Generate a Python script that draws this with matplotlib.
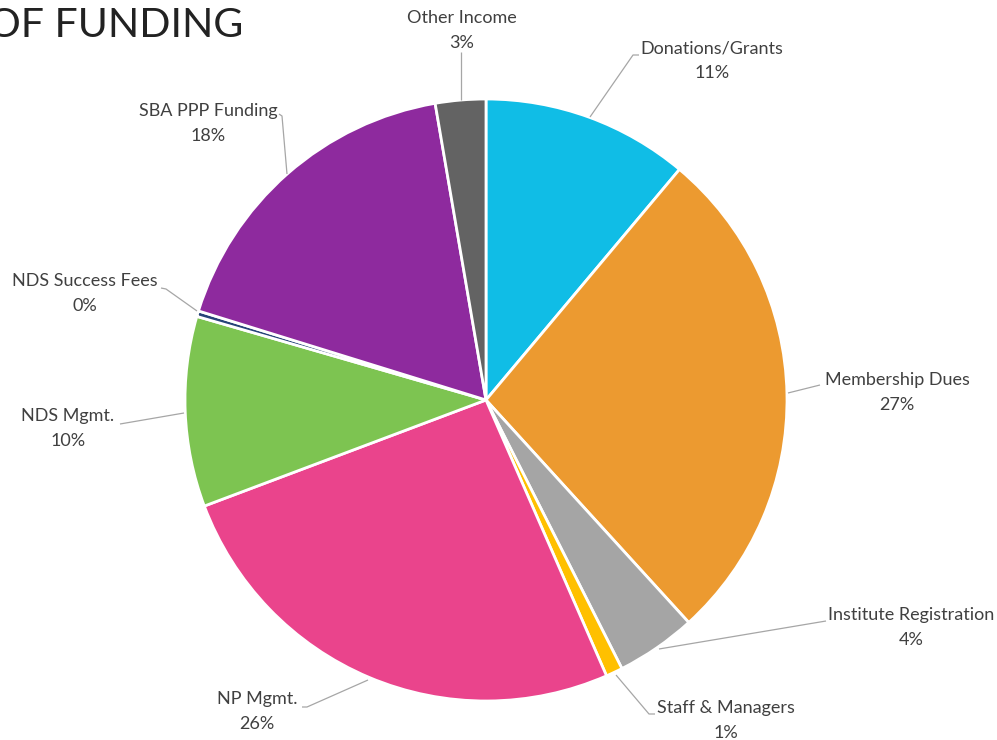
import matplotlib.pyplot as plt

# slice data (clockwise from 12 o'clock)
categories = ['Donations/Grants', 'Membership Dues', 'Institute Registration',
              'Staff & Managers', 'NP Mgmt.', 'NDS Mgmt.', 'NDS Success Fees',
              'SBA PPP Funding', 'Other Income']
shares = [11.1, 27.1, 4.3, 0.9, 25.8, 10.2, 0.3, 17.5, 2.7]
pct_labels = ['11%', '27%', '4%', '1%', '26%', '10%', '0%', '18%', '3%']
colors = ['#10BDE6', '#EC9A30', '#A5A5A5', '#FFC000', '#EA448C',
          '#7DC451', '#264478', '#8E2A9E', '#636363']

W, H = 997, 740
plt.rcParams['font.family'] = ['Lato', 'DejaVu Sans']

fig = plt.figure(figsize=(W / 100, H / 100), dpi=100)
ax = fig.add_axes([0, 0, 1, 1])

cx, cy, r = 486, 400, 301
ax.pie(shares, colors=colors, startangle=90, counterclock=False,
       center=(cx, H - cy), radius=r,
       wedgeprops=dict(edgecolor='white', linewidth=2))
ax.set_xlim(0, W)
ax.set_ylim(0, H)
ax.set_aspect('equal')
ax.axis('off')

# label placement in pixel coords (top-left origin): text centre, leader line points
label_pos = {
    'Donations/Grants': ((712, 48), [(590, 117), (633, 55), (639, 55)]),
    'Membership Dues': ((897, 380), [(788, 393), (820, 385)]),
    'Institute Registration': ((911, 615), [(659, 649), (826, 621)]),
    'Staff & Managers': ((726, 708), [(616, 675), (649, 714), (655, 714)]),
    'NP Mgmt.': ((257, 699), [(368, 680), (307, 707), (302, 707)]),
    'NDS Mgmt.': ((68, 416), [(184, 413), (120, 424)]),
    'NDS Success Fees': ((85, 281), [(197, 311), (166, 289), (161, 288)]),
    'SBA PPP Funding': ((208, 111), [(287, 174), (282, 116), (279, 114)]),
    'Other Income': ((462, 18), [(461, 100), (461, 52)]),
}

for name, pct in zip(categories, pct_labels):
    (tx, ty), line = label_pos[name]
    xs = [p[0] for p in line]
    ys = [H - p[1] for p in line]
    ax.plot(xs, ys, color='#A6A6A6', lw=0.9, solid_capstyle='butt')
    ax.text(tx, H - ty, name, ha='center', va='center', fontsize=13, color='#404040')
    ax.text(tx, H - ty - 25, pct, ha='center', va='center', fontsize=13, color='#404040')

# title, cut off at the left edge as in the source
fig.text(243 / W, 1 - 37 / H, 'OF FUNDING', ha='right', va='baseline',
         fontsize=29.5, color='#222222')

fig.savefig('out.png', dpi=100)
